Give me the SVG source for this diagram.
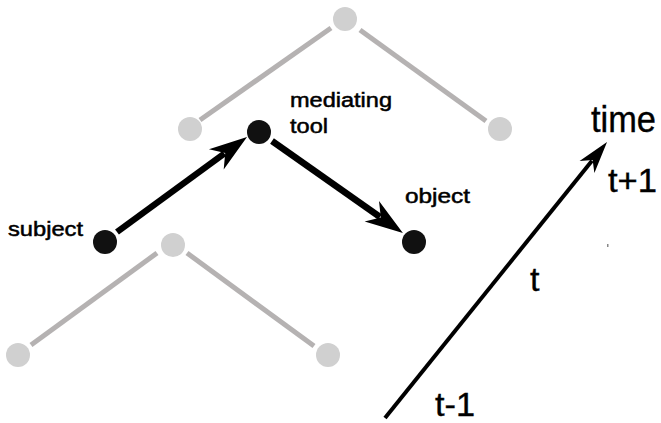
<svg xmlns="http://www.w3.org/2000/svg" width="661" height="423" viewBox="0 0 661 423">
<style>
.g-line{stroke:#b5b2b2;stroke-width:5;fill:none}
.g-node{fill:#d0d0d0}
.b-node{fill:#111}
.b-line{stroke:#000;stroke-width:6.5;fill:none}
.t-line{stroke:#000;stroke-width:4;fill:none}
.lbl{font-family:"Liberation Sans",Arial,sans-serif;font-size:20px;fill:#000;stroke:#000;stroke-width:0.5}
.big{font-family:"Liberation Sans",Arial,sans-serif;font-size:34px;fill:#000;stroke:#000;stroke-width:0.4}
</style>
<defs>
<marker id="ah" markerUnits="userSpaceOnUse" viewBox="-40 -15 42 30" markerWidth="42" markerHeight="30" refX="-28" refY="0" orient="auto">
<path d="M0,0 L-38,-12.5 L-27,0 L-38,12.5 Z" fill="#000"/>
</marker>
<marker id="ahs" markerUnits="userSpaceOnUse" viewBox="-34 -11 36 22" markerWidth="36" markerHeight="22" refX="-24" refY="0" orient="auto">
<path d="M0,0 L-32,-9.5 L-23,0 L-32,9.5 Z" fill="#000"/>
</marker>
</defs>
<g id="connectors">
<line class="g-line" x1="200" y1="120" x2="331" y2="28"/>
<line class="g-line" x1="360" y1="30" x2="486" y2="121"/>
<line class="g-line" x1="31" y1="345" x2="157" y2="253"/>
<line class="g-line" x1="187" y1="253" x2="314" y2="346"/>
<line class="b-line" x1="117" y1="232" x2="224.4" y2="153.5" marker-end="url(#ah)"/>
<line class="b-line" x1="272" y1="141" x2="380" y2="217" marker-end="url(#ah)"/>
<line class="t-line" x1="385" y1="418" x2="592" y2="160.7" marker-end="url(#ahs)"/>
</g>
<g id="top-apex"><circle class="g-node" cx="345" cy="19" r="12"/></g>
<g id="top-left"><circle class="g-node" cx="190" cy="129" r="12"/></g>
<g id="top-right"><circle class="g-node" cx="500" cy="129" r="12"/></g>
<g id="bottom-apex"><circle class="g-node" cx="173" cy="245" r="12"/></g>
<g id="bottom-left"><circle class="g-node" cx="18" cy="355" r="12"/></g>
<g id="bottom-right"><circle class="g-node" cx="328" cy="355" r="12"/></g>
<g id="subject"><circle class="b-node" cx="105" cy="242" r="12"/><text class="lbl" x="8" y="236" textLength="75" lengthAdjust="spacingAndGlyphs">subject</text></g>
<g id="mediating-tool"><circle class="b-node" cx="259" cy="132" r="12"/><text class="lbl" x="290" y="107" textLength="102" lengthAdjust="spacingAndGlyphs">mediating</text><text class="lbl" x="290" y="133" textLength="38" lengthAdjust="spacingAndGlyphs">tool</text></g>
<g id="object"><circle class="b-node" cx="414" cy="242" r="12"/><text class="lbl" x="405" y="203" textLength="65" lengthAdjust="spacingAndGlyphs">object</text></g>
<g id="time-labels">
<text class="big" x="591" y="132" style="font-size:37px" textLength="65" lengthAdjust="spacingAndGlyphs">time</text>
<text class="big" x="608" y="192" textLength="49" lengthAdjust="spacingAndGlyphs">t+1</text>
<text class="big" x="530" y="291">t</text>
<text class="big" x="435" y="416" textLength="40" lengthAdjust="spacingAndGlyphs">t-1</text>
<rect x="607" y="244" width="1.5" height="3" fill="#888"/>
</g>
</svg>
